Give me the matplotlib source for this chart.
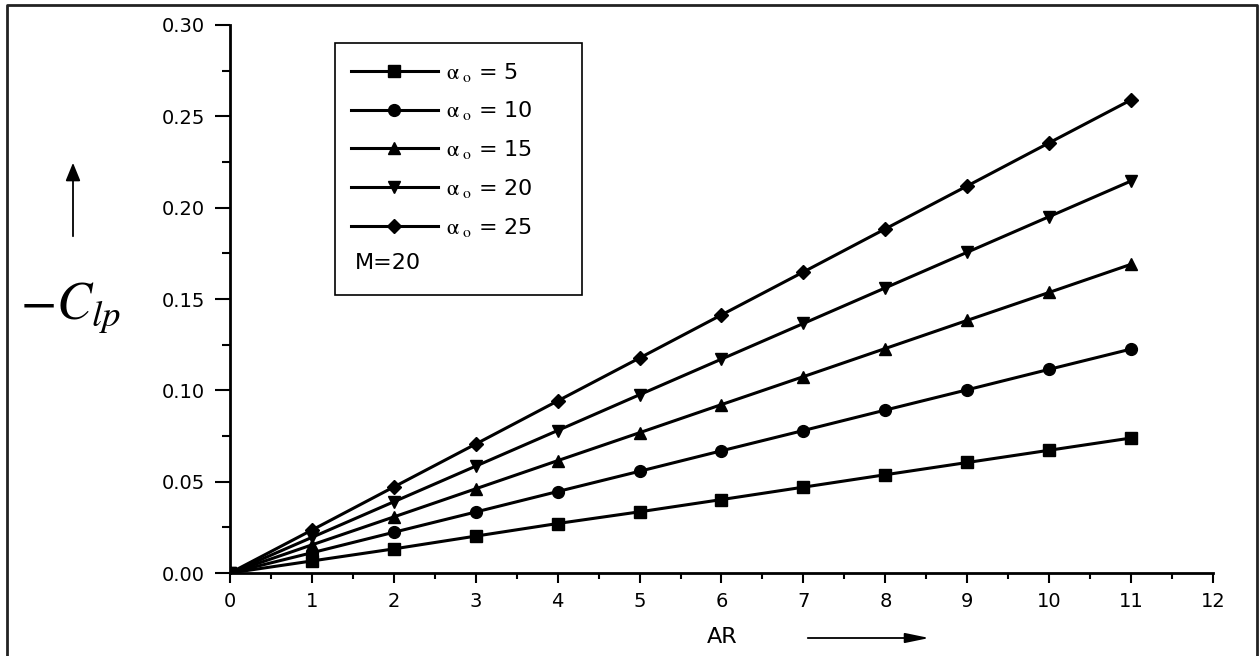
import matplotlib
matplotlib.use('Agg')
import matplotlib.pyplot as plt
from matplotlib.lines import Line2D
from matplotlib.patches import Rectangle, FancyArrowPatch
from matplotlib.ticker import MultipleLocator, FormatStrFormatter

plt.rcParams['font.family'] = ['DejaVu Sans']
plt.rcParams['mathtext.fontset'] = 'stix'

# data
ar = [0, 1, 2, 3, 4, 5, 6, 7, 8, 9, 10, 11]
clp_a5 = [0.0, 0.0066, 0.0132, 0.0202, 0.0271, 0.0335, 0.0402, 0.0470, 0.0538, 0.0605, 0.0672, 0.0739]
clp_a10 = [0.0, 0.0111, 0.0223, 0.0334, 0.0446, 0.0557, 0.0669, 0.0780, 0.0892, 0.1003, 0.1115, 0.1226]
clp_a15 = [0.0, 0.0154, 0.0307, 0.0461, 0.0615, 0.0768, 0.0922, 0.1075, 0.1229, 0.1383, 0.1536, 0.1690]
clp_a20 = [0.0, 0.0195, 0.0390, 0.0585, 0.0780, 0.0976, 0.1171, 0.1366, 0.1561, 0.1756, 0.1951, 0.2146]
clp_a25 = [0.0, 0.0235, 0.0471, 0.0706, 0.0942, 0.1177, 0.1413, 0.1648, 0.1884, 0.2119, 0.2355, 0.2590]

series = [(clp_a5, 's', '5'), (clp_a10, 'o', '10'), (clp_a15, '^', '15'),
          (clp_a20, 'v', '20'), (clp_a25, 'D', '25')]

fig = plt.figure(figsize=(12.6, 6.56), dpi=100)
ax = fig.add_axes([0.1825, 0.1265, 0.7802, 0.8354])

for vals, mk, lab in series:
    ms = 7.5 if mk == 'D' else 8.5
    ax.plot(ar, vals, color='black', linewidth=2.2, marker=mk, markersize=ms,
            label=r'$\mathrm{\alpha}_{\ \rm o}$ = ' + lab)

ax.set_xlim(0, 12)
ax.set_ylim(0, 0.30)
ax.xaxis.set_major_locator(MultipleLocator(1))
ax.xaxis.set_minor_locator(MultipleLocator(0.5))
ax.yaxis.set_major_locator(MultipleLocator(0.05))
ax.yaxis.set_minor_locator(MultipleLocator(0.025))
ax.yaxis.set_major_formatter(FormatStrFormatter('%.2f'))
ax.tick_params(which='both', direction='out', width=1.5, labelsize=14)
ax.tick_params(axis='y', which='major', length=11, pad=7)
ax.tick_params(axis='y', which='minor', length=5.5)
ax.tick_params(axis='x', which='major', length=7.5, pad=6)
ax.tick_params(axis='x', which='minor', length=4.5)
ax.spines['top'].set_visible(False)
ax.spines['right'].set_visible(False)
ax.spines['left'].set_linewidth(2)
ax.spines['bottom'].set_linewidth(2)

# legend without frame, box drawn separately so M=20 fits inside
leg = ax.legend(loc='upper left', bbox_to_anchor=(0.123, 0.935), handlelength=3.9,
                numpoints=1, fontsize=16, frameon=False, labelspacing=0.71,
                handletextpad=0.4, borderaxespad=0, borderpad=0)
ax.add_patch(Rectangle((0.1068, 0.5073), 0.2513, 0.4599, transform=ax.transAxes,
                       fill=False, edgecolor='black', linewidth=1.2, zorder=5))
ax.text(0.127, 0.566, 'M=20', transform=ax.transAxes, fontsize=16, va='center')

# axis labels with arrows
fig.text(70 / 1260, 1 - 308 / 656, r'$-C_{lp}$', fontsize=38, ha='center', va='center')
fig.add_artist(FancyArrowPatch((73 / 1260, 1 - 239 / 656), (73 / 1260, 1 - 160 / 656),
               transform=fig.transFigure, arrowstyle='-|>,head_length=1.1,head_width=0.45',
               mutation_scale=10, color='black', lw=1.3))
fig.text(722 / 1260, 1 - 637 / 656, 'AR', fontsize=16, ha='center', va='center')
fig.add_artist(FancyArrowPatch((805 / 1260, 1 - 638 / 656), (932 / 1260, 1 - 638 / 656),
               transform=fig.transFigure, arrowstyle='-|>,head_length=1.45,head_width=0.3',
               mutation_scale=10, color='black', lw=1.3))

# outer frame (left, top, right; bottom is cut off in the original)
fx0, fx1, fy1 = 7 / 1260, 1257 / 1260, 1 - 5 / 656
fig.add_artist(Line2D([fx0, fx0, fx1, fx1], [0, fy1, fy1, 0], transform=fig.transFigure,
                      color='#222222', linewidth=2))

fig.savefig('out.png', dpi=100)
